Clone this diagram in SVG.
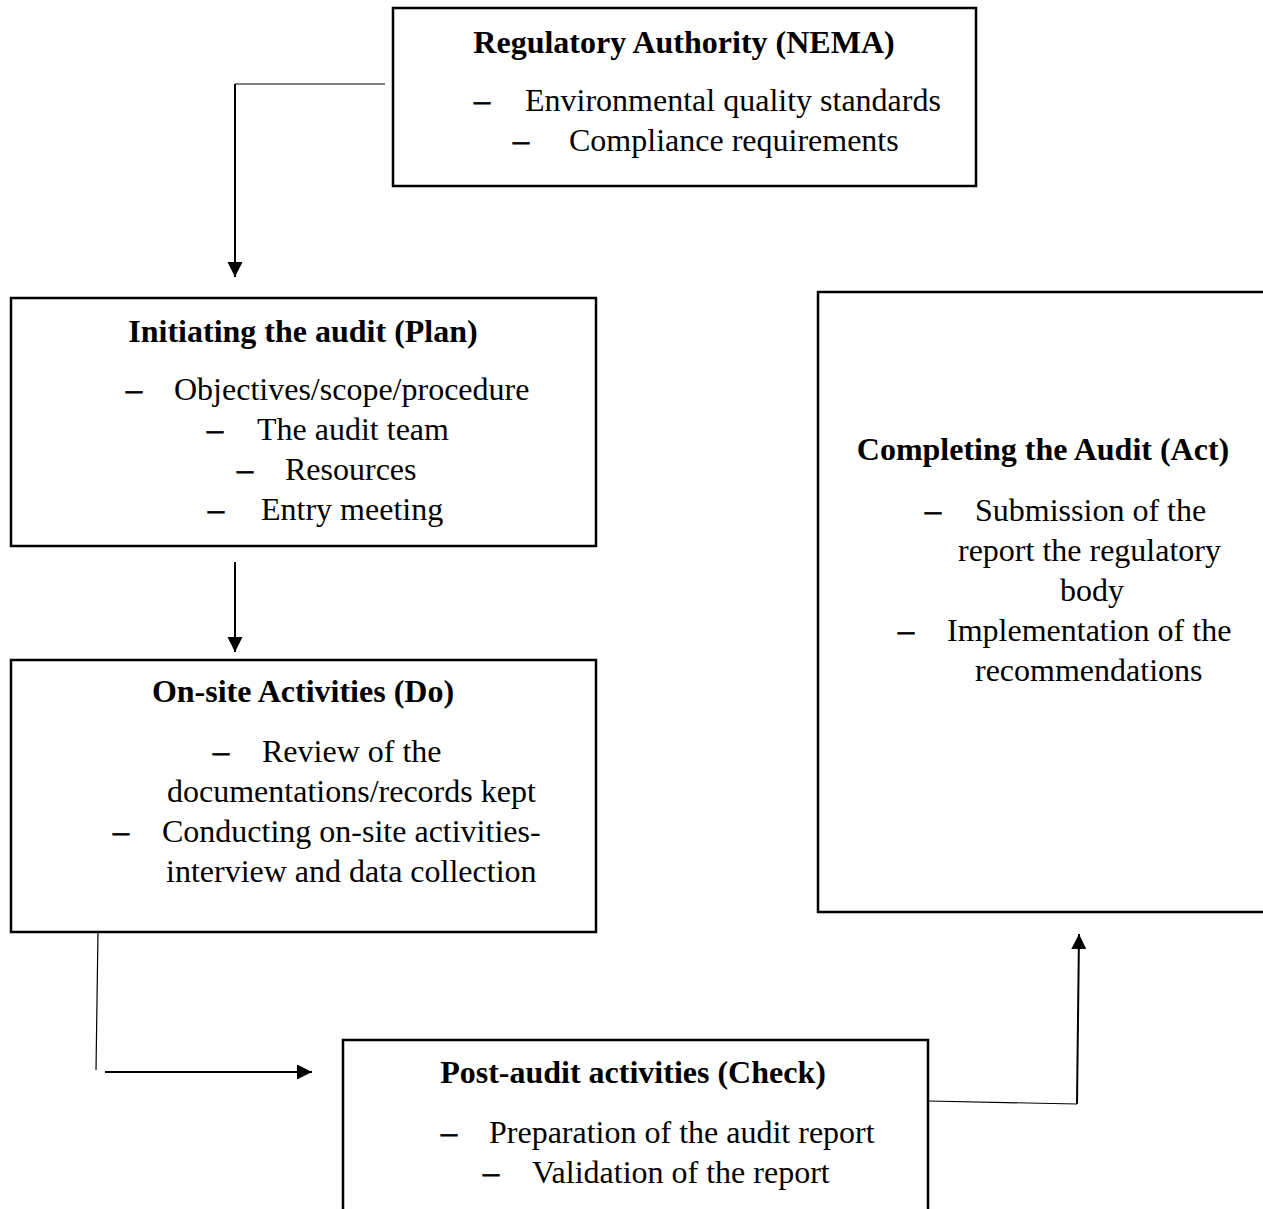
<svg xmlns="http://www.w3.org/2000/svg" width="1263" height="1209" viewBox="0 0 1263 1209">
<defs>
<marker id="arr" viewBox="0 0 10 10" refX="10" refY="5" markerWidth="15" markerHeight="16" markerUnits="userSpaceOnUse" orient="auto">
<path d="M0,0 L10,5 L0,10 Z" fill="#000"/>
</marker>
<style>
.box{fill:#fff;stroke:#000;stroke-width:2.5}
text{font-family:"Liberation Serif","Times New Roman",serif;font-size:32px;fill:#000}
.t{font-weight:bold;text-anchor:middle}
.d{stroke:#000;stroke-width:0.8}
.c{stroke:#000;fill:none}
</style>
</defs>
<rect width="1263" height="1209" fill="#fff"/>
<g id="connectors">
<line class="c" x1="385" y1="84" x2="235" y2="84" stroke-width="1.2"/>
<line class="c" x1="235" y1="84" x2="235" y2="277" stroke-width="2" marker-end="url(#arr)"/>
<line class="c" x1="235" y1="562" x2="235" y2="652" stroke-width="2" marker-end="url(#arr)"/>
<line class="c" x1="98" y1="932" x2="96" y2="1070" stroke-width="1.2"/>
<line class="c" x1="105" y1="1072" x2="312" y2="1072" stroke-width="2" marker-end="url(#arr)"/>
<line class="c" x1="928" y1="1101" x2="1077" y2="1104" stroke-width="1.2"/>
<line class="c" x1="1077" y1="1104" x2="1079" y2="934" stroke-width="2" marker-end="url(#arr)"/>
</g>
<g id="nema">
<rect class="box" x="393" y="8" width="583" height="178"/>
<text class="t" x="684" y="53">Regulatory Authority (NEMA)</text>
<text class="d" x="474" y="111">–</text><text x="525" y="111">Environmental quality standards</text>
<text class="d" x="513" y="151">–</text><text x="569" y="151">Compliance requirements</text>
</g>
<g id="plan">
<rect class="box" x="11" y="298" width="585" height="248"/>
<text class="t" x="303" y="342">Initiating the audit (Plan)</text>
<text class="d" x="126" y="400">–</text><text x="174" y="400">Objectives/scope/procedure</text>
<text class="d" x="207" y="440">–</text><text x="257" y="440">The audit team</text>
<text class="d" x="237" y="480">–</text><text x="285" y="480">Resources</text>
<text class="d" x="208" y="520">–</text><text x="261" y="520">Entry meeting</text>
</g>
<g id="do">
<rect class="box" x="11" y="660" width="585" height="272"/>
<text class="t" x="303" y="702">On-site Activities (Do)</text>
<text class="d" x="213" y="762">–</text><text x="262" y="762">Review of the</text>
<text x="167" y="802">documentations/records kept</text>
<text class="d" x="113" y="842">–</text><text x="162" y="842">Conducting on-site activities-</text>
<text x="166" y="882">interview and data collection</text>
</g>
<g id="check">
<path class="box" d="M343,1209 L343,1040 L928,1040 L928,1209"/>
<text class="t" x="633" y="1083">Post-audit activities (Check)</text>
<text class="d" x="441" y="1143">–</text><text x="489" y="1143">Preparation of the audit report</text>
<text class="d" x="483" y="1183">–</text><text x="532" y="1183">Validation of the report</text>
</g>
<g id="act">
<path class="box" d="M1263,292 L818,292 L818,912 L1263,912"/>
<text class="t" x="1043" y="460">Completing the Audit (Act)</text>
<text class="d" x="925" y="521">–</text><text x="975" y="521">Submission of the</text>
<text x="958" y="561">report the regulatory</text>
<text x="1060" y="601">body</text>
<text class="d" x="898" y="641">–</text><text x="947" y="641">Implementation of the</text>
<text x="975" y="681">recommendations</text>
</g>
</svg>
